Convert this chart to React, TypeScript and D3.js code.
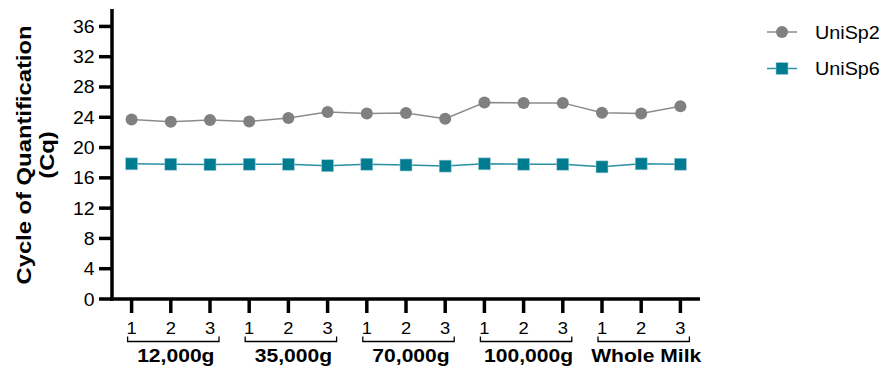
import { useRef, useEffect } from "react"
import * as d3 from "d3"

const groups = ["12,000g", "35,000g", "70,000g", "100,000g", "Whole Milk"]
const reps = ["1", "2", "3"]
const uniSp2 = [23.7, 23.4, 23.65, 23.45, 23.9, 24.7, 24.5, 24.55, 23.8, 25.95, 25.9, 25.9, 24.6, 24.5, 25.45]
const uniSp6 = [17.85, 17.8, 17.75, 17.8, 17.8, 17.6, 17.8, 17.7, 17.55, 17.85, 17.8, 17.8, 17.45, 17.85, 17.8]
const yTicks = [0, 4, 8, 12, 16, 20, 24, 28, 32, 36]

const GRAY = "#808080"
const TEAL = "#007b8f"

const App = () => {
  const svgRef = useRef<SVGSVGElement>(null)

  useEffect(() => {
    const svg = d3.select(svgRef.current)
    svg.selectAll("*").remove()

    const font = "Arial, 'Liberation Sans', sans-serif"
    const keys = groups.flatMap((g, gi) => reps.map((r) => `${gi}-${r}`))

    const x = d3.scalePoint<string>().domain(keys).range([112, 700]).padding(0.5)
    const y = d3.scaleLinear().domain([0, 38.3]).range([299, 9])

    // text is drawn slightly wide, like the reference
    const label = (g: any, tx: number, ty: number, sx: number, size: number, txt: string, anchor = "middle", bold = false) =>
      g.append("text")
        .attr("transform", `translate(${tx},${ty}) scale(${sx},1)`)
        .attr("text-anchor", anchor)
        .style("font-family", font).style("font-size", `${size}px`)
        .style("font-weight", bold ? "bold" : "normal")
        .text(txt)

    // axes
    svg.append("line")
      .attr("x1", 112).attr("x2", 112).attr("y1", y(38.3)).attr("y2", y(0) + 1.7)
      .attr("stroke", "#000").attr("stroke-width", 3.5)
    svg.append("line")
      .attr("x1", 110).attr("x2", 700).attr("y1", y(0)).attr("y2", y(0))
      .attr("stroke", "#000").attr("stroke-width", 3.5)

    // y ticks
    const yt = svg.append("g")
    yTicks.forEach((t) => {
      yt.append("line")
        .attr("x1", 99).attr("x2", 112).attr("y1", y(t)).attr("y2", y(t))
        .attr("stroke", "#000").attr("stroke-width", 3.5)
      label(yt, 94.5, y(t) + 6.5, 1.08, 18, String(t), "end")
    })

    // y label, two lines
    const yl = svg.append("g").attr("transform", "translate(0,155) rotate(-90)")
    yl.append("text")
      .attr("transform", "translate(0,30.5) scale(1.19,1)")
      .attr("text-anchor", "middle")
      .style("font-family", font).style("font-size", "20px").style("font-weight", "bold")
      .text("Cycle of Quantification")
    yl.append("text")
      .attr("transform", "translate(0,54) scale(1.19,1)")
      .attr("text-anchor", "middle")
      .style("font-family", font).style("font-size", "20px").style("font-weight", "bold")
      .text("(Cq)")

    // x ticks, replicate labels, brackets, group labels
    const xt = svg.append("g")
    keys.forEach((k, i) => {
      xt.append("line")
        .attr("x1", x(k)!).attr("x2", x(k)!).attr("y1", y(0)).attr("y2", 313)
        .attr("stroke", "#000").attr("stroke-width", 3.5)
      label(xt, x(k)!, 334, 1.08, 17, reps[i % 3])
    })
    groups.forEach((g, gi) => {
      const x0 = x(`${gi}-1`)! - 4
      const x2 = x(`${gi}-3`)! + 9
      xt.append("path")
        .attr("d", `M${x0},336.5 V341.5 H${x2} V336.5`)
        .attr("fill", "none").attr("stroke", "#000").attr("stroke-width", 1.3)
      label(xt, x(`${gi}-2`)! + 5, 361.7, 1.14, 18.5, g, "middle", true)
    })

    // series
    const line = d3.line<number>().x((_, i) => x(keys[i])!).y((d) => y(d))
    svg.append("path").datum(uniSp2)
      .attr("d", line).attr("fill", "none").attr("stroke", "#8c8c8c").attr("stroke-width", 1.5)
    svg.append("path").datum(uniSp6)
      .attr("d", line).attr("fill", "none").attr("stroke", "#2a90a3").attr("stroke-width", 1.5)

    svg.append("g").selectAll("circle").data(uniSp2).enter().append("circle")
      .attr("cx", (_, i) => x(keys[i])!).attr("cy", (d) => y(d)).attr("r", 6)
      .attr("fill", GRAY)
    svg.append("g").selectAll("rect").data(uniSp6).enter().append("rect")
      .attr("x", (_, i) => x(keys[i])! - 6).attr("y", (d) => y(d) - 6)
      .attr("width", 12).attr("height", 12)
      .attr("fill", TEAL).attr("stroke", "#9fd0da").attr("stroke-width", 0.6)

    // legend
    const lg = svg.append("g")
    lg.append("line").attr("x1", 767).attr("x2", 797).attr("y1", 32).attr("y2", 32)
      .attr("stroke", "#8c8c8c").attr("stroke-width", 1.5)
    lg.append("circle").attr("cx", 782).attr("cy", 32).attr("r", 6).attr("fill", GRAY)
    label(lg, 815, 38.5, 1.07, 18.5, "UniSp2", "start")
    lg.append("line").attr("x1", 767).attr("x2", 797).attr("y1", 68.5).attr("y2", 68.5)
      .attr("stroke", "#2a90a3").attr("stroke-width", 1.5)
    lg.append("rect").attr("x", 776).attr("y", 62.5).attr("width", 12).attr("height", 12)
      .attr("fill", TEAL).attr("stroke", "#9fd0da").attr("stroke-width", 0.6)
    label(lg, 815, 75, 1.07, 18.5, "UniSp6", "start")
  }, [])

  return (
    <svg
      ref={svgRef}
      width={896}
      height={376}
      style={{ position: "absolute", left: 0, top: 0, background: "#fff" }}
    />
  )
}

export default App
